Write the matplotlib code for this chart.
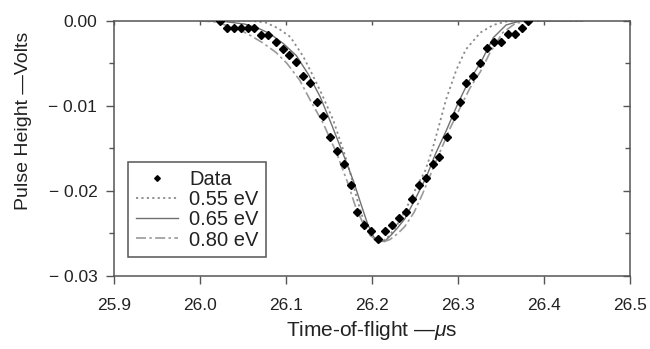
import matplotlib
matplotlib.use("Agg")
import matplotlib.pyplot as plt
import numpy as np

plt.rcParams['font.family'] = ['Liberation Sans', 'DejaVu Sans']
plt.rcParams['mathtext.fontset'] = 'custom'
plt.rcParams['mathtext.it'] = 'Liberation Sans:italic'
plt.rcParams['mathtext.rm'] = 'Liberation Sans'

# ---- measured data (time in microseconds, pulse height in volts) ----
data_t = [26.023, 26.031, 26.040, 26.048, 26.056, 26.063, 26.071, 26.079, 26.088, 26.096,
          26.103, 26.112, 26.120, 26.128, 26.136, 26.143, 26.151, 26.159, 26.167, 26.176,
          26.183, 26.191, 26.199, 26.207, 26.215, 26.223, 26.231, 26.239, 26.247, 26.255,
          26.263, 26.271, 26.278, 26.287, 26.295, 26.302, 26.309, 26.318, 26.326, 26.334,
          26.342, 26.350, 26.358, 26.366, 26.374, 26.381]
data_v = [0.0, -0.00082, -0.00082, -0.00082, -0.00082, -0.00082, -0.00165, -0.00165, -0.00247, -0.00327,
          -0.00407, -0.00489, -0.00651, -0.00729, -0.00960, -0.01121, -0.01365, -0.01529, -0.01689, -0.01927,
          -0.02251, -0.02395, -0.02476, -0.02560, -0.02476, -0.02395, -0.02318, -0.02251, -0.02089, -0.01925,
          -0.01845, -0.01686, -0.01607, -0.01365, -0.01121, -0.00953, -0.00729, -0.00651, -0.00494, -0.00325,
          -0.00247, -0.00247, -0.00160, -0.00160, -0.00082, 0.0]

# ---- model curves ----
t055 = [26.000, 26.058, 26.076, 26.091, 26.105, 26.120, 26.131, 26.142, 26.155, 26.166,
        26.174, 26.183, 26.191, 26.198, 26.205, 26.210, 26.217, 26.226, 26.235, 26.244,
        26.253, 26.262, 26.270, 26.278, 26.286, 26.298, 26.309, 26.326, 26.341, 26.356,
        26.372, 26.445]
v055 = [0.0, 0.0, -0.0002, -0.0009, -0.0019, -0.0042, -0.0064, -0.0087, -0.0117, -0.0150,
        -0.0176, -0.0211, -0.0237, -0.0252, -0.0259, -0.0260, -0.0256, -0.0245, -0.0230, -0.0212,
        -0.0193, -0.0176, -0.0152, -0.0123, -0.0093, -0.0058, -0.0034, -0.0014, -0.0005, -0.0001,
        0.0, 0.0]

t065 = [26.000, 26.029, 26.052, 26.067, 26.081, 26.097, 26.112, 26.126, 26.140, 26.153,
        26.167, 26.179, 26.188, 26.195, 26.202, 26.209, 26.216, 26.223, 26.230, 26.238,
        26.249, 26.263, 26.274, 26.286, 26.300, 26.312, 26.326, 26.341, 26.356, 26.370,
        26.384, 26.445]
v065 = [0.0, -0.0001, -0.0004, -0.00086, -0.0015, -0.0027, -0.0041, -0.0063, -0.0090, -0.0122,
        -0.0158, -0.0190, -0.0218, -0.0239, -0.0254, -0.0260, -0.0258, -0.0251, -0.0243, -0.0233,
        -0.0212, -0.0184, -0.0156, -0.0130, -0.0097, -0.0072, -0.0050, -0.0020, -0.0005, -0.0001,
        0.0, 0.0]

t080 = [26.000, 26.017, 26.033, 26.047, 26.058, 26.073, 26.088, 26.101, 26.116, 26.128,
        26.143, 26.159, 26.172, 26.181, 26.190, 26.198, 26.206, 26.213, 26.221, 26.230,
        26.238, 26.249, 26.259, 26.270, 26.280, 26.291, 26.305, 26.314, 26.326, 26.337,
        26.352, 26.367, 26.384, 26.445]
v080 = [0.0, -0.00015, -0.0006, -0.0011, -0.0017, -0.0026, -0.0037, -0.0050, -0.0070, -0.0093,
        -0.0120, -0.0156, -0.0191, -0.0219, -0.0239, -0.0252, -0.0259, -0.0260, -0.0257, -0.0250,
        -0.0242, -0.0225, -0.0203, -0.0176, -0.0152, -0.0126, -0.0097, -0.0079, -0.0060, -0.0038,
        -0.0014, -0.0003, 0.0, 0.0]

labels = ["Data", "0.55 eV", "0.65 eV", "0.80 eV"]
xticks = [25.9, 26.0, 26.1, 26.2, 26.3, 26.4, 26.5]
xticklabels = ["25.9", "26.0", "26.1", "26.2", "26.3", "26.4", "26.5"]
yticks = [0.0, -0.01, -0.02, -0.03]
yticklabels = ["0.00", "\u2212 0.01", "\u2212 0.02", "\u2212 0.03"]

spine_c = '#555555'
text_c = '#222222'

fig = plt.figure(figsize=(6.5, 3.49), dpi=100)
ax = fig.add_axes([0.1754, 0.209, 0.7938, 0.7317])

ax.plot(t055, v055, linestyle=(0, (1.2, 1.8)), color='#8a8a8a', lw=1.3, label=labels[1], zorder=2)
ax.plot(t065, v065, linestyle='-', color='#707070', lw=1.0, label=labels[2], zorder=2)
ax.plot(t080, v080, linestyle=(0, (6, 2, 1.5, 2)), color='#9a9a9a', lw=1.2, label=labels[3], zorder=2)
ax.plot(data_t, data_v, linestyle='none', marker='D', markersize=3.6, color='black',
        label=labels[0], zorder=3)

ax.set_xlim(25.9, 26.5)
ax.set_ylim(-0.03, 0.0)

ax.set_xticks(xticks)
ax.set_xticklabels(xticklabels)
ax.set_yticks(yticks)
ax.set_yticklabels(yticklabels)
ax.set_yticks([-0.005, -0.015, -0.025], minor=True)

for s in ax.spines.values():
    s.set_color(spine_c)
    s.set_linewidth(1.1)

ax.tick_params(axis='both', which='major', direction='out', length=6, width=1.0,
               color=spine_c, labelcolor=text_c, labelsize=12.5)
ax.tick_params(axis='x', which='major', pad=10)
ax.tick_params(axis='y', which='major', pad=6)
ax.tick_params(axis='y', which='minor', direction='out', length=3.5, width=1.0, color=spine_c)

# top ticks (inward, no labels)
top = ax.secondary_xaxis('top')
top.set_xticks(xticks)
top.tick_params(direction='in', length=3, width=1.0, color=spine_c, labeltop=False)
top.spines['top'].set_visible(False)

# right ticks (inward, no labels)
right = ax.secondary_yaxis('right')
right.set_yticks(yticks)
right.set_yticks([-0.005, -0.015, -0.025], minor=True)
right.tick_params(which='major', direction='in', length=5, width=1.0, color=spine_c, labelright=False)
right.tick_params(which='minor', direction='in', length=3.5, width=1.0, color=spine_c)
right.spines['right'].set_visible(False)

ax.set_xlabel("Time-of-flight \u2014$\\mu$s", fontsize=15, color=text_c, labelpad=4)
ax.set_ylabel("Pulse Height \u2014Volts", fontsize=14, color=text_c)
ax.yaxis.set_label_coords(-0.159, 0.607)

handles, labs = ax.get_legend_handles_labels()
order = [3, 0, 1, 2]
leg = ax.legend([handles[i] for i in order], [labs[i] for i in order],
                loc='lower left', bbox_to_anchor=(0.027, 0.074), borderaxespad=0,
                fontsize=14.5, frameon=True, fancybox=False, framealpha=1,
                edgecolor=spine_c, handlelength=2.1, handletextpad=0.55,
                labelspacing=0.06, borderpad=0.38, markerscale=0.8)
leg.get_frame().set_linewidth(1.1)
for t in leg.get_texts():
    t.set_color(text_c)

fig.savefig("out.png", dpi=100)
